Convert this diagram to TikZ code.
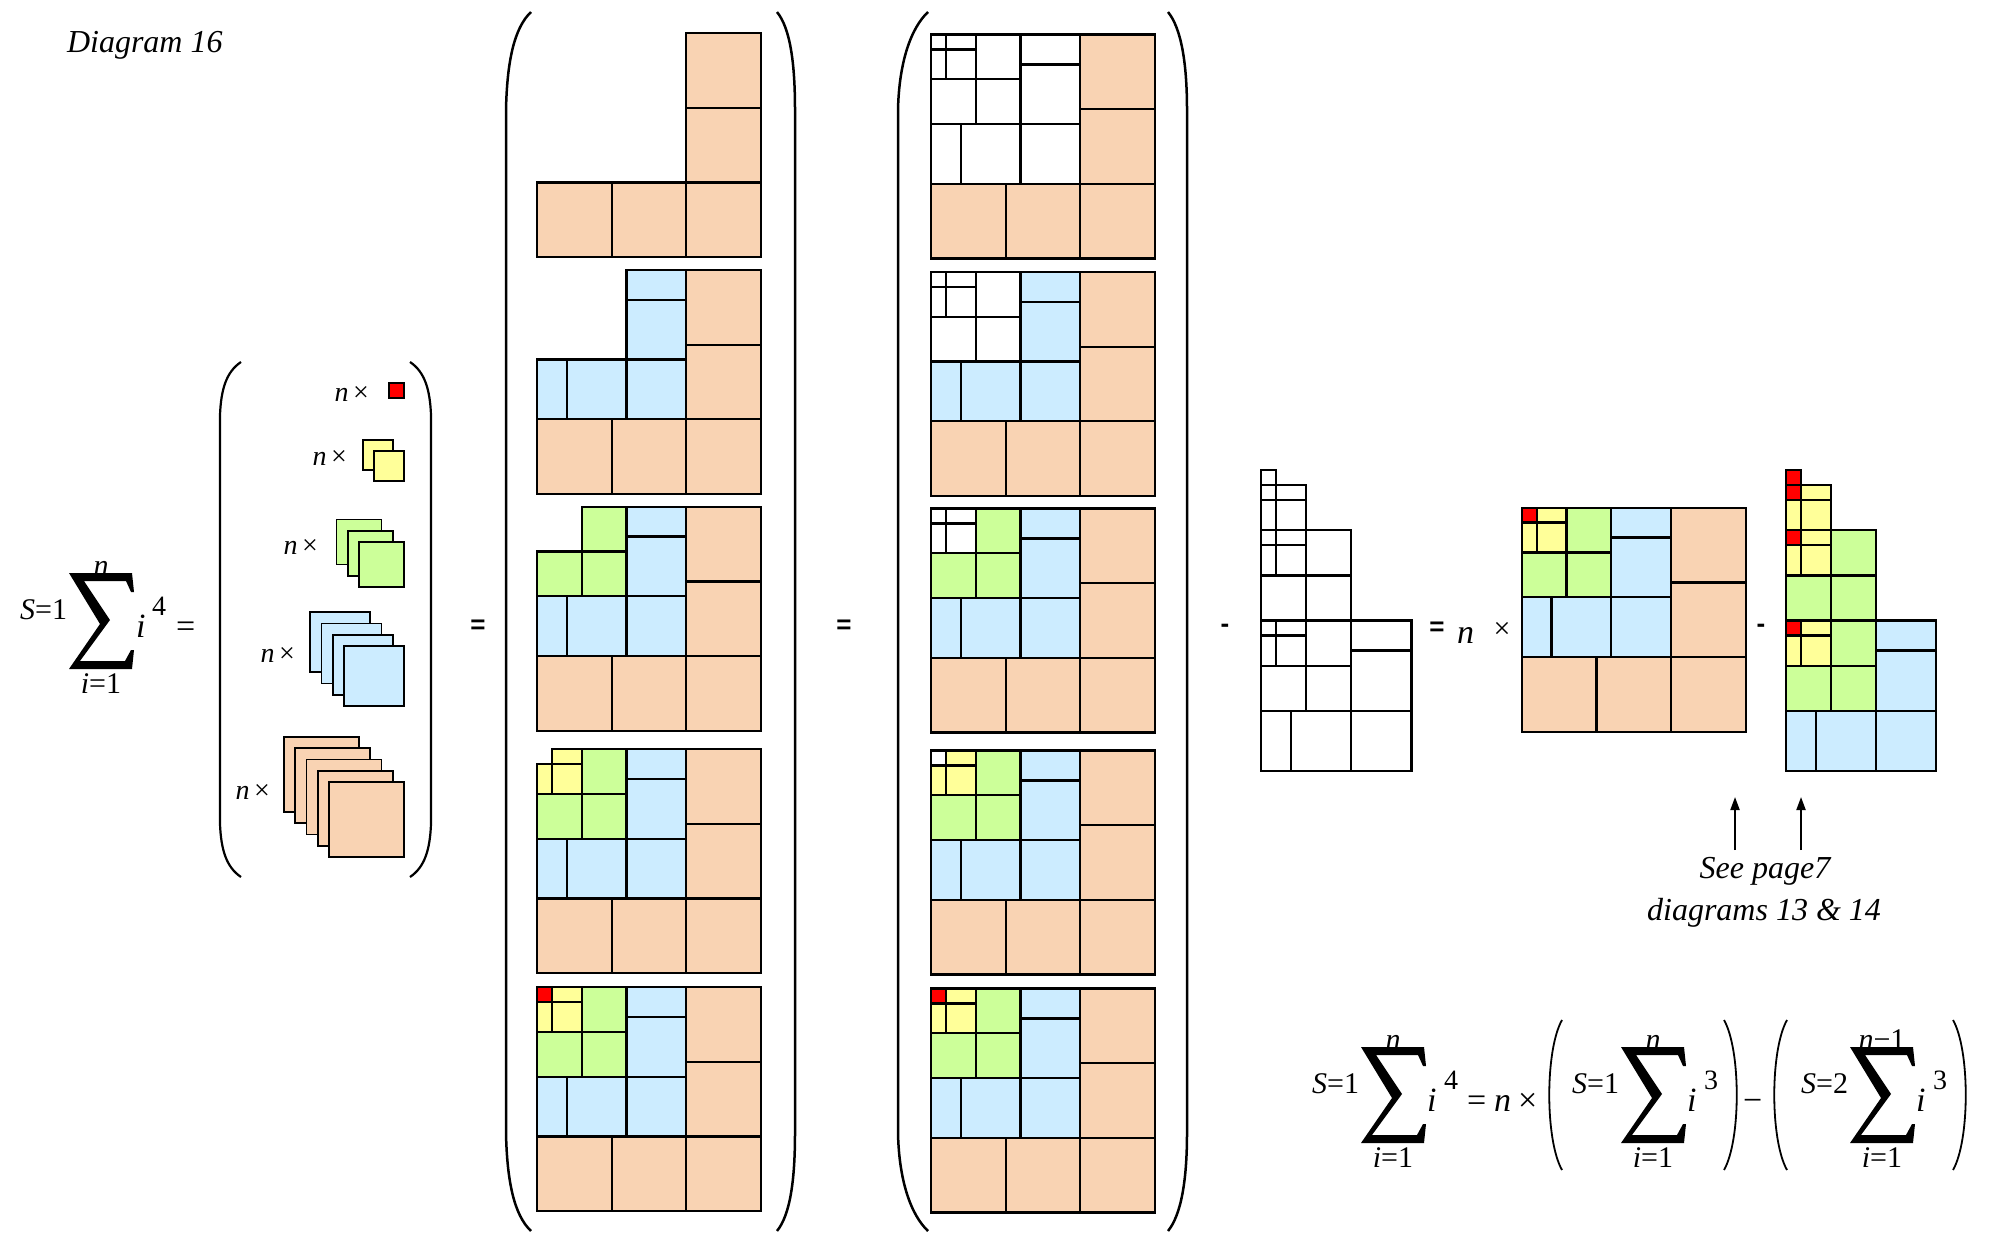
\documentclass[tikz,border=0pt]{standalone}
\usepackage{fontspec}
\setmainfont{Liberation Serif}
\newfontfamily\opsans{Liberation Sans}
\usetikzlibrary{arrows.meta}

\definecolor{sqorange}{HTML}{F9D3B3}
\definecolor{sqblue}{HTML}{CCECFF}
\definecolor{sqgreen}{HTML}{CCFF99}
\definecolor{sqyellow}{HTML}{FFFF99}
\definecolor{sqred}{HTML}{FF0000}

% One colour band of the 15x15 square, in units of the smallest square
\newcommand\bandR[1]{\filldraw[cell,fill=#1] (0,0) rectangle (1,1);}
\newcommand\bandY[1]{\filldraw[cell,fill=#1] (1,0) rectangle (3,1) (1,1) rectangle (3,3) (0,1) rectangle (1,3);}
\newcommand\bandG[1]{\filldraw[cell,fill=#1] (3,0) rectangle (6,3) (3,3) rectangle (6,6) (0,3) rectangle (3,6);}
\newcommand\bandB[1]{\filldraw[cell,fill=#1] (6,0) rectangle (10,2) (6,2) rectangle (10,6) (6,6) rectangle (10,10) (0,6) rectangle (2,10) (2,6) rectangle (6,10);}
\newcommand\bandO[1]{\filldraw[cell,fill=#1] (10,0) rectangle (15,5) (10,5) rectangle (15,10) (10,10) rectangle (15,15) (0,10) rectangle (5,15) (5,10) rectangle (10,15);}
\newcommand\allbands[5]{\bandO{#1}\bandB{#2}\bandG{#3}\bandY{#4}\bandR{#5}}

% place a square with its top-left corner at (#1,#2)
\newcommand\atsq[3]{\begin{scope}[shift={(#1,#2)}, x=14.93pt, y=-14.93pt]#3\end{scope}}

% stack of #1 squares of side #2, front one with top-left corner at (#3,#4)
\newcommand\sqstack[5]{%
  \foreach \k in {1,...,#1}{%
    \filldraw[stk, fill=#5] ({#3-(#1-\k)*11.3},{#4-(#1-\k)*11.3}) rectangle +(#2,#2);}}

% heavy summation sign centred at (#1,#2)
\newcommand\sigmaglyph[2]{%
  \fill[shift={(#1,#2)}] (-32,-48) -- (31,-48) -- (33,-29) -- (30,-29) -- (25,-40) -- (-17,-40)
    -- (9,-1) -- (-21,40) -- (24,40) -- (30,29) -- (33,29) -- (31,48) -- (-32,48) -- (-1,3) -- cycle;}

% staircase of squares of sides 1, 3, 6, 10 stacked downwards
\newcommand\staircase[7]{%
  \begin{scope}[shift={(#1,#2)}, x=15.05pt, y=-15.05pt]
    \bandR{#7}
    \begin{scope}[shift={(0,1)}]\bandY{#6}\bandR{#7}\end{scope}
    \begin{scope}[shift={(0,4)}]\bandG{#5}\bandY{#6}\bandR{#7}\end{scope}
    \begin{scope}[shift={(0,10)}]\bandB{#4}\bandG{#5}\bandY{#6}\bandR{#7}\end{scope}
  \end{scope}}

\tikzset{
  cell/.style={draw=black, line width=2.3pt},
  stk/.style={draw=black, line width=1.8pt},
  bigparen/.style={draw=black, line width=2.5pt},
  fparen/.style={draw=black, line width=1.8pt},
  txt/.style={inner sep=0pt, outer sep=0pt},
  title/.style={txt, font=\fontsize{32}{38}\selectfont\itshape},
  cnt/.style={txt, font=\fontsize{28}{32}\selectfont},
  fmain/.style={txt, font=\fontsize{34}{40}\selectfont},
  flim/.style={txt, font=\fontsize{30}{36}\selectfont},
  fsup/.style={txt, font=\fontsize{28}{32}\selectfont},
  op/.style={txt, font=\fontsize{26}{30}\selectfont\opsans\bfseries},
  pointer/.style={line width=2pt, -{Triangle[length=13pt, width=9pt]}},
}

\begin{document}
\begin{tikzpicture}[x=1pt, y=-1pt]
\fill[white] (0,0) rectangle (1994,1233);
\useasboundingbox (0,0) rectangle (1994,1233);

\node[title, anchor=base west] (title) at (67,53) {Diagram 16};

% ---- left-hand side: S=1 sum of i^4 ----
\sigmaglyph{101}{621}
\node[flim, anchor=base east] (sA) at (67,619) {\textit{S}=1};
\node[flim, anchor=base] (nA) at (101,575) {\textit{n}};
\node[flim, anchor=base] (lA) at (101,693) {\textit{i}=1};
\node[fmain, anchor=base west] (iA) at (136,637) {\textit{i}};
\node[fsup, anchor=base west] (pA) at (152,615) {4};
\node[fmain, anchor=base west] (eA) at (176,637) {=};

% ---- stacks of coloured squares ----
\draw[bigparen, line width=2.2pt] (241,362) .. controls (226,372) and (221,390) .. (220,415) -- (220,824)
  .. controls (221,849) and (226,867) .. (241,877);
\draw[bigparen, line width=2.2pt] (410,362) .. controls (425,372) and (430,390) .. (431,415) -- (431,824)
  .. controls (430,849) and (425,867) .. (410,877);
\sqstack{1}{15}{389}{383}{sqred}
\sqstack{2}{30}{374}{451}{sqyellow}
\sqstack{3}{45}{359}{542}{sqgreen}
\sqstack{4}{60}{344}{646}{sqblue}
\sqstack{5}{75}{329}{782}{sqorange}
\node[cnt, anchor=east] (cR) at (369,394) {\textit{n}\,×};
\node[cnt, anchor=east] (cY) at (347,458) {\textit{n}\,×};
\node[cnt, anchor=east] (cG) at (318,547) {\textit{n}\,×};
\node[cnt, anchor=east] (cB) at (295,655) {\textit{n}\,×};
\node[cnt, anchor=east] (cO) at (270,792) {\textit{n}\,×};

\node[op] (eq1) at (478,627) {=};

% ---- first column: bands added one by one ----
\draw[bigparen] (531,12) .. controls (514,28) and (507,62) .. (506,110) -- (506,1133)
  .. controls (507,1181) and (514,1215) .. (531,1231);
\draw[bigparen] (777,12) .. controls (790,28) and (795,62) .. (795,110) -- (795,1133)
  .. controls (795,1181) and (790,1215) .. (777,1231);
\atsq{537}{33.3}{\bandO{sqorange}}
\atsq{537}{270}{\bandO{sqorange}\bandB{sqblue}}
\atsq{537}{506.7}{\bandO{sqorange}\bandB{sqblue}\bandG{sqgreen}}
\atsq{537}{749.3}{\bandO{sqorange}\bandB{sqblue}\bandG{sqgreen}\bandY{sqyellow}}
\atsq{537}{987.3}{\allbands{sqorange}{sqblue}{sqgreen}{sqyellow}{sqred}}

\node[op] (eq2) at (844,627) {=};

% ---- second column: full squares, missing bands left white ----
\draw[bigparen] (928,12) .. controls (911,28) and (899,62) .. (898,110) -- (898,1133)
  .. controls (899,1181) and (911,1215) .. (928,1231);
\draw[bigparen] (1168,12) .. controls (1181,28) and (1187,62) .. (1187,110) -- (1187,1133)
  .. controls (1187,1181) and (1181,1215) .. (1168,1231);
\atsq{931}{34.5}{\allbands{sqorange}{white}{white}{white}{white}}
\atsq{931}{272}{\allbands{sqorange}{sqblue}{white}{white}{white}}
\atsq{931}{508.5}{\allbands{sqorange}{sqblue}{sqgreen}{white}{white}}
\atsq{931}{750.5}{\allbands{sqorange}{sqblue}{sqgreen}{sqyellow}{white}}
\atsq{931}{988.5}{\allbands{sqorange}{sqblue}{sqgreen}{sqyellow}{sqred}}

\node[op] (mi1) at (1225,628) {-};

% ---- white staircase ----
\staircase{1261}{470}{white}{white}{white}{white}{white}

\node[op] (eq3) at (1437,629) {=};
\node[fmain, anchor=base west] (nC) at (1457,643) {\textit{n}};
\node[flim] (xC) at (1502,630) {×};

% ---- n times the full square ----
\atsq{1521.7}{507.7}{\allbands{sqorange}{sqblue}{sqgreen}{sqyellow}{sqred}}

\node[op] (mi2) at (1761,628) {-};

% ---- coloured staircase ----
\staircase{1785.7}{470}{white}{sqblue}{sqgreen}{sqyellow}{sqred}

% ---- reference note ----
\node[title] (see1) at (1765,871) {See page7};
\node[title] (see2) at (1764,913) {diagrams 13 \& 14};
\coordinate (a1s) at (1735,850);
\coordinate (a1e) at (1735,797);
\coordinate (a2s) at (1801,850);
\coordinate (a2e) at (1801,797);
\draw[pointer] (a1s) -- (a1e);
\draw[pointer] (a2s) -- (a2e);

% ---- closing identity ----
\sigmaglyph{1393}{1095}
\node[flim, anchor=base east] (sB) at (1359,1093) {\textit{S}=1};
\node[flim, anchor=base] (nB) at (1393,1049) {\textit{n}};
\node[flim, anchor=base] (lB) at (1393,1167) {\textit{i}=1};
\node[fmain, anchor=base west] (iB) at (1427,1111) {\textit{i}};
\node[fsup, anchor=base west] (pB) at (1444,1089) {4};
\node[fmain, anchor=base west] (eB) at (1467,1111) {=};
\node[fmain, anchor=base west] (nB2) at (1494,1111) {\textit{n}};
\node[fmain, anchor=base west] (xB) at (1518,1111) {×};
\draw[fparen] (1562,1020) .. controls (1545,1050) and (1545,1140) .. (1562,1170);

\sigmaglyph{1653}{1095}
\node[flim, anchor=base east] (sC) at (1619,1093) {\textit{S}=1};
\node[flim, anchor=base] (nC2) at (1653,1049) {\textit{n}};
\node[flim, anchor=base] (lC) at (1653,1167) {\textit{i}=1};
\node[fmain, anchor=base west] (iC) at (1687,1111) {\textit{i}};
\node[fsup, anchor=base west] (pC) at (1704,1089) {3};
\draw[fparen] (1724,1020) .. controls (1741,1050) and (1741,1140) .. (1724,1170);
\node[fmain, anchor=base west] (mB) at (1743,1111) {−};
\draw[fparen] (1787,1020) .. controls (1770,1050) and (1770,1140) .. (1787,1170);

\sigmaglyph{1882}{1095}
\node[flim, anchor=base east] (sD) at (1848,1093) {\textit{S}=2};
\node[flim, anchor=base] (nD) at (1882,1049) {\textit{n}−1};
\node[flim, anchor=base] (lD) at (1882,1167) {\textit{i}=1};
\node[fmain, anchor=base west] (iD) at (1916,1111) {\textit{i}};
\node[fsup, anchor=base west] (pD) at (1933,1089) {3};
\draw[fparen] (1953,1020) .. controls (1970,1050) and (1970,1140) .. (1953,1170);
\end{tikzpicture}
\end{document}
